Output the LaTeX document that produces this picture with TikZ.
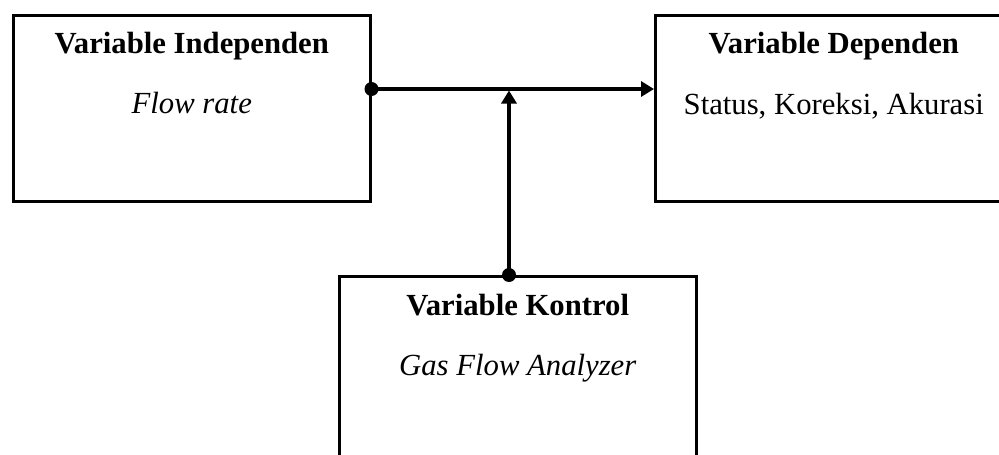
\documentclass[tikz,border=0pt]{standalone}
\usepackage{fontspec}
\setmainfont{Liberation Serif}
\usetikzlibrary{arrows.meta,calc}
\tikzset{
  box/.style={draw=black, line width=2.5pt, rectangle, minimum width=357pt, minimum height=186pt, inner sep=0pt, anchor=north west},
  title/.style={font=\fontsize{30.7}{36}\selectfont\bfseries, anchor=base, inner sep=0pt},
  sub/.style={font=\fontsize{30.7}{36}\selectfont, anchor=base, inner sep=0pt},
  conn/.style={line width=3.5pt, -{Triangle[length=13pt,width=15pt]}},
  dot/.style={circle, fill=black, minimum size=14pt, inner sep=0pt},
}
\begin{document}
\begin{tikzpicture}[x=1pt,y=-1pt]
\useasboundingbox (0,0) rectangle (999,455);
\clip (0,0) rectangle (999,455);
\node[box] (indep) at (12,14) {};
\node[box] (dep) at (654,14) {};
\node[box] (kont) at (338,275) {};
\node[title] (indepT) at ($(indep.north)+(0,39)$) {Variable Independen};
\node[sub] (indepS) at ($(indep.north)+(0,99)$) {\itshape Flow rate};
\node[title] (depT) at ($(dep.north)+(0,39)$) {Variable Dependen};
\node[sub] (depS) at ($(dep.north)+(0,100)$) {Status, Koreksi, Akurasi};
\node[title] (kontT) at ($(kont.north)+(0,40)$) {Variable Kontrol};
\node[sub] (kontS) at ($(kont.north)+(0,100)$) {\itshape Gas Flow Analyzer};
\coordinate (hstart) at ($(indep.north east)+(0,75)$);
\coordinate (hend) at (dep.west |- hstart);
\coordinate (vstart) at ($(kont.north west)+(171,0)$);
\coordinate (vend) at ($(vstart |- hstart)+(0,1.5)$);
\draw[conn] (hstart) -- (hend);
\draw[conn] (vstart) -- (vend);
\node[dot] (d1) at (hstart) {};
\node[dot] (d2) at (vstart) {};
\end{tikzpicture}
\end{document}
